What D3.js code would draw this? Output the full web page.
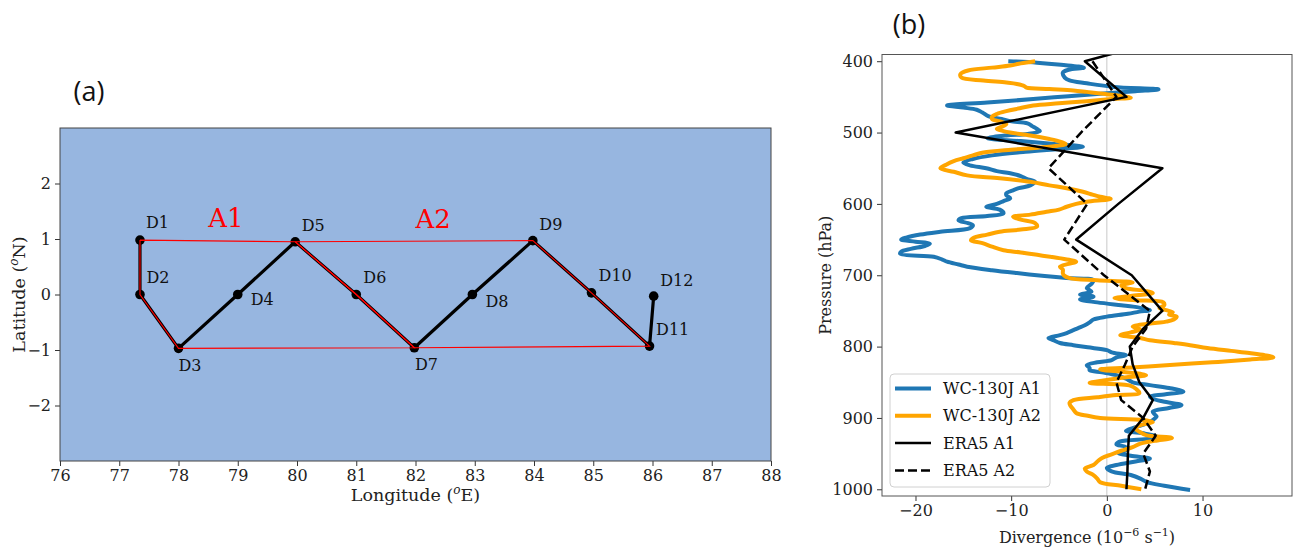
<!DOCTYPE html>
<html>
<head>
<meta charset="utf-8">
<script src="https://cdn.jsdelivr.net/npm/d3@7"></script>
<style>
  body { margin: 0; background: #fff; }
  svg { display: block; }
  .tick text { font-family: "DejaVu Serif", serif; fill: #222; }
</style>
</head>
<body>
<svg width="1296" height="548"></svg>
<script>
// ---- panel (a): flight track ----
const stations = ["D1", "D2", "D3", "D4", "D5", "D6", "D7", "D8", "D9", "D10", "D11", "D12"];
const stationLon = [77.35, 77.35, 78.0, 79.0, 79.97, 81.0, 81.98, 82.96, 83.98, 84.97, 85.95, 86.02];
const stationLat = [0.98, 0.0, -0.97, 0.0, 0.95, 0.0, -0.96, 0.0, 0.97, 0.03, -0.93, -0.03];
// where the labels sit (data coords, text baseline)
const labelLon = [77.45, 77.46, 78.0, 79.22, 80.08, 81.12, 81.99, 83.18, 84.09, 85.09, 86.06, 86.13];
const labelLat = [1.19, 0.21, -1.38, -0.19, 1.15, 0.2, -1.36, -0.22, 1.17, 0.25, -0.73, 0.15];

const areaNames = ["A1", "A2"];
const areaLabelLon = [78.5, 82.0];
const areaLabelLat = [1.21, 1.19];
const areaCorners = [[0, 4, 5, 6, 2, 1, 0], [4, 8, 9, 10, 6, 5, 4]];

const lonTicks = d3.range(76, 89, 1);
const latTicks = [-2, -1, 0, 1, 2];

// ---- panel (b): divergence profiles, [pressure hPa, divergence 1e-6 s-1] ----
const wcA1 = [
  [400,-10.3],[402,-7.3],[405,-4.8],[409,-2.4],[412,-4.0],[416,-4.6],[423,-4.4],[427,-3.9],[431,-2.1],
  [436,0.7],[439.5,5.4],[442,3.0],[445,0],[449,-4.0],[453,-7.7],[458,-12.5],[462,-16.7],[465,-15.0],
  [468,-13.6],[472,-13.0],[477,-12.4],[481,-11.0],[484,-10.1],[487,-8.3],[491,-7.8],[495,-7.3],
  [498,-7.0],[502,-8.3],[504,-10.5],[508,-12.5],[512,-9.0],[516,-5.5],[520,-2.5],[523,-5.0],
  [527,-8.5],[532,-12.0],[537,-14.0],[542,-15.0],[546,-14.3],[550,-12.6],[554,-11.5],[557,-10.1],
  [561,-9.0],[565,-8.4],[569,-7.5],[574,-8.0],[578,-9.2],[581,-9.8],[585,-10.5],[588,-10.5],
  [592,-10.1],[596,-10.8],[600,-11.5],[604,-12.6],[608,-11.2],[613,-10.8],[617,-12.5],[620,-15.2],
  [623,-15.5],[627,-14.5],[630,-14.0],[634,-14.3],[639,-17.4],[643,-19.5],[647,-20.9],[650,-21.5],
  [653,-20.0],[656,-18.5],[659,-19.0],[663,-20.5],[667,-21.5],[670,-21.6],[674,-18.1],[678,-17.2],
  [681,-16.7],[685,-15.5],[688,-14.6],[693,-12.0],[697,-9.4],[701,-6.5],[704,-4.2],[707,-1.4],
  [712,-1.6],[718,-2.1],[723,-1.6],[727,-2.8],[730,-1.4],[734,-2.8],[738,-1.0],[742,1.5],[744,2.75],
  [747,4.0],[749,4.5],[751,3.4],[754,2.2],[758,0],[762,-1.4],[766,-1.8],[770,-2.3],[774,-3.0],
  [777,-3.5],[781,-4.2],[784,-4.9],[788,-6.1],[791,-5.6],[795,-4.9],[798,-3.5],[801,-2.0],[805,0],
  [808,0.5],[812,2.0],[815,1.0],[819,0.5],[822,-1.0],[826,-2.1],[830,-1.8],[833,-1.8],[836,-0.5],
  [840,1.0],[845,2.0],[850,2.7],[854,4.5],[858,6.5],[863,8.0],[867,6.0],[870,4.5],[873,4.8],
  [877,5.9],[882,7.8],[886,6.5],[891,4.8],[895,5.0],[898,5.2],[903,4.8],[908,4.1],[913,3.0],
  [918,2.0],[922,4.0],[926,5.2],[929,4.5],[933,1.4],[937,1.0],[941,2.0],[945,2.0],[949,1.2],
  [953,2.5],[957,4.5],[961,3.0],[966,1.0],[970,0],[975,0.5],[980,2.5],[985,3.5],[990,4.2],
  [995,6.0],[1001,8.7]
];
const wcA2 = [
  [400,-7.5],[403,-9.0],[406,-10.1],[409,-12.0],[413,-14.5],[418,-15.3],[423,-15.2],[427,-12.9],
  [430,-10.5],[432,-9.4],[435,-8.6],[437,-8.4],[439,-6.0],[441,-3.5],[443,-2.1],[447,0.5],[451,2.5],
  [453,0.5],[456,-2.1],[459,-5.0],[462,-7.7],[466,-9.1],[470,-10.5],[474,-11.5],[478,-12.0],
  [481,-12.0],[485,-11.0],[488,-10.5],[492,-11.0],[495,-11.5],[498,-10.8],[500,-10.1],[504,-8.0],
  [509,-6.0],[513,-4.8],[516,-4.3],[519,-5.5],[521,-7.0],[524,-10.0],[528,-12.9],[532,-14.0],
  [536,-15.0],[540,-16.0],[545,-16.8],[550,-17.4],[555,-16.0],[560,-14.6],[564,-11.2],[569,-8.0],
  [574,-6.0],[578,-4.2],[583,-2.5],[587,-1.5],[590,-0.7],[593,0.4],[597,-2.1],[600,-3.2],[604,-4.2],
  [608,-5.0],[611,-6.3],[615,-8.0],[618,-9.8],[622,-9.0],[627,-7.5],[632,-7.3],[636,-9.0],
  [639,-11.2],[643,-12.5],[648,-14.0],[651,-14.2],[655,-13.0],[660,-12.0],[665,-10.8],[668,-9.0],
  [672,-7.0],[676,-5.0],[681,-3.2],[684,-4.0],[688,-4.9],[692,-4.6],[697,-4.6],[700,-4.5],
  [704,-3.9],[707,-1.0],[710,2.7],[714,1.5],[718,2.0],[722,4.0],[725,4.8],[729,2.5],[732,0.8],
  [735,3.0],[738,5.9],[742,6.0],[746,5.5],[749,6.2],[752,6.9],[755,6.5],[758,7.3],[762,7.0],
  [765,6.2],[767,5.0],[772,2.7],[776,3.5],[780,2.5],[784,1.4],[788,3.5],[791,4.5],[795,7.0],
  [798,8.7],[802,10.5],[806,13.0],[809,14.9],[812,16.5],[815,17.4],[818,15.0],[822,11.0],[826,6.2],
  [829,3.0],[832,-0.7],[836,2.0],[840,4.1],[844,1.4],[848,-0.5],[851,-1.8],[855,2.5],[860,3.1],
  [865,3.4],[868,1.0],[871,-1.0],[875,-3.5],[879,-3.9],[883,-3.8],[888,-3.5],[893,-3.2],[897,-2.0],
  [900,-0.7],[903,3.8],[906,4.8],[910,3.5],[915,3.0],[920,3.5],[924,4.1],[928,6.8],[932,5.0],
  [936,3.5],[941,2.7],[946,1.5],[951,0.5],[956,-0.5],[960,-0.9],[966,-1.4],[971,-2.3],[975,-2.1],
  [980,-1.4],[985,-1.0],[990,-0.7],[995,1.5],[1000,3.6]
];
const eraLevels = [350, 400, 450, 500, 550, 600, 650, 700, 750, 775, 800, 825, 850, 875, 900, 925, 950, 975, 1000];
const eraA1 = [11.5, -2.3, 2.05, -15.8, 5.8, 1.2, -3.2, 2.6, 5.8, 3.8, 2.4, 2.7, 3.4, 4.8, 3.8, 2.3, 2.2, 2.15, 2.05];
const eraA2 = [null, -1.5, 1.0, -2.7, -6.1, -2.05, -4.45, -0.3, 4.5, 4.1, 2.7, 1.9, 1.0, 1.5, 3.8, 5.1, 3.8, 4.5, 4.0];

const pressureTicks = [400, 500, 600, 700, 800, 900, 1000];
const divTicks = [-20, -10, 0, 10];

const series = [
  {name: "WC-130J A1", color: "#1f77b4", width: 4, dash: null},
  {name: "WC-130J A2", color: "#ffa500", width: 4, dash: null},
  {name: "ERA5 A1", color: "#000", width: 2.5, dash: null},
  {name: "ERA5 A2", color: "#000", width: 2.5, dash: "9,4"}
];

const svg = d3.select("svg");
const serif = "DejaVu Serif, serif";
const minus = d => d < 0 ? "\u2212" + (-d) : String(d);

function styleAxis(g, size) {
  g.select(".domain").remove();
  g.selectAll(".tick line").attr("stroke", "#333");
  g.selectAll(".tick text").style("font-size", size + "px");
}

function drawMap() {
  const area = {left: 60, right: 771, top: 128, bottom: 461};
  const x = d3.scaleLinear().domain([76, 88]).range([area.left, area.right]);
  const y = d3.scaleLinear().domain([-3, 3]).range([area.bottom, area.top]);

  svg.append("rect")
    .attr("x", area.left).attr("y", area.top)
    .attr("width", area.right - area.left).attr("height", area.bottom - area.top)
    .attr("fill", "#97b6e0");

  // black flight track
  const line = d3.line().x(i => x(stationLon[i])).y(i => y(stationLat[i]));
  svg.append("path")
    .attr("d", line(d3.range(stations.length)))
    .attr("fill", "none").attr("stroke", "#000").attr("stroke-width", 3.2)
    .attr("stroke-linejoin", "round");

  svg.selectAll(".stn").data(stations).enter().append("circle")
    .attr("cx", (d, i) => x(stationLon[i]))
    .attr("cy", (d, i) => y(stationLat[i]))
    .attr("r", 4.8).attr("fill", "#000");

  // red area outlines
  areaCorners.forEach(idx => {
    svg.append("path")
      .attr("d", line(idx))
      .attr("fill", "none").attr("stroke", "#ff0000").attr("stroke-width", 1.1);
  });

  svg.selectAll(".stnlab").data(stations).enter().append("text")
    .attr("x", (d, i) => x(labelLon[i]))
    .attr("y", (d, i) => y(labelLat[i]))
    .style("font-family", serif).style("font-size", "16px").attr("fill", "#111")
    .text(d => d);

  svg.selectAll(".arealab").data(areaNames).enter().append("text")
    .attr("x", (d, i) => x(areaLabelLon[i]))
    .attr("y", (d, i) => y(areaLabelLat[i]))
    .style("font-family", serif).style("font-size", "26px").attr("fill", "#ff0000")
    .text(d => d);

  const gx = svg.append("g")
    .attr("transform", `translate(0,${area.bottom})`)
    .call(d3.axisBottom(x).tickValues(lonTicks).tickSize(5).tickPadding(4).tickFormat(d3.format("d")));
  styleAxis(gx, 16);
  const gy = svg.append("g")
    .attr("transform", `translate(${area.left},0)`)
    .call(d3.axisLeft(y).tickValues(latTicks).tickSize(5).tickPadding(4).tickFormat(minus));
  styleAxis(gy, 16);

  svg.append("rect")
    .attr("x", area.left).attr("y", area.top)
    .attr("width", area.right - area.left).attr("height", area.bottom - area.top)
    .attr("fill", "none").attr("stroke", "#444").attr("stroke-width", 1);

  const xl = svg.append("text")
    .attr("x", (area.left + area.right) / 2).attr("y", 501)
    .attr("text-anchor", "middle")
    .style("font-family", serif).style("font-size", "17.5px").attr("fill", "#222");
  xl.append("tspan").text("Longitude (");
  xl.append("tspan").attr("dy", -7).style("font-size", "12px").style("font-style", "italic").text("o");
  xl.append("tspan").attr("dy", 7).text("E)");

  const yl = svg.append("text")
    .attr("transform", `translate(25,${(area.top + area.bottom) / 2}) rotate(-90)`)
    .attr("text-anchor", "middle")
    .style("font-family", serif).style("font-size", "17.5px").attr("fill", "#222");
  yl.append("tspan").text("Latitude (");
  yl.append("tspan").attr("dy", -7).style("font-size", "12px").style("font-style", "italic").text("o");
  yl.append("tspan").attr("dy", 7).text("N)");

  svg.append("text").attr("x", 89).attr("y", 101).attr("text-anchor", "middle")
    .style("font-family", "Open Sans, sans-serif").style("font-size", "27px").attr("fill", "#111")
    .text("(a)");
}

function drawProfile() {
  const area = {left: 882, right: 1292, top: 54.5, bottom: 496};
  const x = d3.scaleLinear().domain([-23.5, 19.35]).range([area.left, area.right]);
  const y = d3.scaleLinear().domain([390.6, 1009.4]).range([area.top, area.bottom]);

  svg.append("clipPath").attr("id", "clipb").append("rect")
    .attr("x", area.left).attr("y", area.top)
    .attr("width", area.right - area.left).attr("height", area.bottom - area.top);

  const plot = svg.append("g").attr("clip-path", "url(#clipb)");

  plot.append("line")
    .attr("x1", x(0)).attr("x2", x(0)).attr("y1", area.top).attr("y2", area.bottom)
    .attr("stroke", "#c8c8c8").attr("stroke-width", 1);

  const curve = d3.line().x(d => x(d[1])).y(d => y(d[0])).curve(d3.curveCatmullRom.alpha(0.5));
  const straight = d3.line().defined(d => d[1] !== null).x(d => x(d[1])).y(d => y(d[0]));

  const profiles = [
    wcA1,
    wcA2,
    eraLevels.map((p, i) => [p, eraA1[i]]),
    eraLevels.map((p, i) => [p, eraA2[i]])
  ];

  profiles.forEach((pts, k) => {
    const s = series[k];
    plot.append("path")
      .attr("d", k < 2 ? curve(pts) : straight(pts))
      .attr("fill", "none").attr("stroke", s.color).attr("stroke-width", s.width)
      .attr("stroke-linejoin", "round")
      .attr("stroke-dasharray", s.dash);
  });

  const gx = svg.append("g")
    .attr("transform", `translate(0,${area.bottom})`)
    .call(d3.axisBottom(x).tickValues(divTicks).tickSize(5).tickPadding(4).tickFormat(minus));
  styleAxis(gx, 16);
  const gy = svg.append("g")
    .attr("transform", `translate(${area.left},0)`)
    .call(d3.axisLeft(y).tickValues(pressureTicks).tickSize(5).tickPadding(4).tickFormat(d3.format("d")));
  styleAxis(gy, 16);

  svg.append("rect")
    .attr("x", area.left).attr("y", area.top)
    .attr("width", area.right - area.left).attr("height", area.bottom - area.top)
    .attr("fill", "none").attr("stroke", "#555").attr("stroke-width", 1);

  // legend
  const lg = svg.append("g").attr("transform", "translate(890,374)");
  lg.append("rect").attr("width", 160).attr("height", 113).attr("rx", 4)
    .attr("fill", "#fff").attr("fill-opacity", 0.85).attr("stroke", "#d0d0d0");
  series.forEach((s, i) => {
    const yy = 14.5 + i * 27.3;
    lg.append("line").attr("x1", 5).attr("x2", 41).attr("y1", yy).attr("y2", yy)
      .attr("stroke", s.color).attr("stroke-width", s.width).attr("stroke-dasharray", s.dash);
    lg.append("text").attr("x", 53).attr("y", yy + 5.5)
      .style("font-family", serif).style("font-size", "16px").attr("fill", "#111")
      .text(s.name);
  });

  const xl = svg.append("text")
    .attr("x", (area.left + area.right) / 2).attr("y", 543)
    .attr("text-anchor", "middle")
    .style("font-family", serif).style("font-size", "16px").attr("fill", "#222");
  xl.append("tspan").text("Divergence (10");
  xl.append("tspan").attr("dy", -7).style("font-size", "11px").text("\u22126");
  xl.append("tspan").attr("dy", 7).text(" s");
  xl.append("tspan").attr("dy", -7).style("font-size", "11px").text("\u22121");
  xl.append("tspan").attr("dy", 7).text(")");

  svg.append("text")
    .attr("transform", `translate(831,${(area.top + area.bottom) / 2}) rotate(-90)`)
    .attr("text-anchor", "middle")
    .style("font-family", serif).style("font-size", "16px").attr("fill", "#222")
    .text("Pressure (hPa)");

  svg.append("text").attr("x", 909).attr("y", 34).attr("text-anchor", "middle")
    .style("font-family", "Open Sans, sans-serif").style("font-size", "27px").attr("fill", "#111")
    .text("(b)");
}

drawMap();
drawProfile();
</script>
</body>
</html>
